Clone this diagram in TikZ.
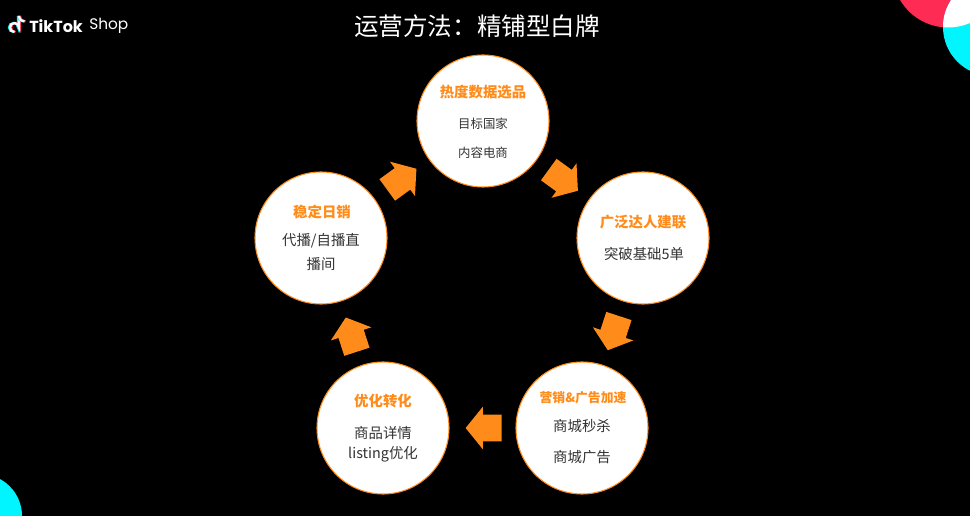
\documentclass[tikz,border=0pt]{standalone}
\usepackage{fontspec}
\newfontfamily\cjk{Noto Sans CJK SC}
\newfontfamily\logofont{Poppins}
\usetikzlibrary{shapes.arrows}
\definecolor{tkorange}{HTML}{FF8C1A}
\definecolor{tkred}{HTML}{FE2C55}
\definecolor{tkcyan}{HTML}{00F5FF}
\definecolor{tktext}{HTML}{333333}
\tikzstyle{stage}=[circle,draw=tkorange,line width=0.8pt,fill=white,minimum size=99pt,inner sep=0pt]
\tikzstyle{head}=[font=\cjk\fontsize{10.8pt}{12pt}\selectfont\bfseries,text=tkorange,inner sep=0pt]
\tikzstyle{body}=[font=\cjk\fontsize{10.8pt}{12pt}\selectfont,text=tktext,inner sep=0pt]
\tikzstyle{flow}=[single arrow,fill=tkorange,minimum height=27pt,minimum width=31.5pt,single arrow head extend=6pt,single arrow tip angle=102,inner xsep=0pt,inner ysep=9.75pt]
\begin{document}
\begin{tikzpicture}[x=0.75pt,y=-0.75pt]
	\useasboundingbox (0,0) rectangle (970,516);
	\fill[black] (0,0) rectangle (970,516);
	% corner decorations
	\begin{scope}
		\clip (0,0) rectangle (970,516);
		\fill[tkred] (948,-28) circle[radius=55.5];
		\fill[tkcyan] (992,27) circle[radius=49];
		\begin{scope}
			\clip (948,-28) circle[radius=55.5];
			\fill[white] (992,27) circle[radius=49];
		\end{scope}
		\fill[tkcyan] (-20,516) circle[radius=42];
	\end{scope}
	% logo
	\foreach \col/\dx in {tkcyan/-1,tkred/1,white/0}
		\draw[\col,line width=1.7pt] ([xshift=\dx*0.75pt]19,16) -- ([xshift=\dx*0.75pt]19,27.5)
			arc[start angle=0,end angle=-270,radius=4.5];
	\foreach \col/\dx in {tkcyan/-1,tkred/1,white/0}
		\draw[\col,line width=1.7pt] ([xshift=\dx*0.75pt]19,16) .. controls ([xshift=\dx*0.75pt]19.5,19.5) and ([xshift=\dx*0.75pt]21.5,21.5) .. ([xshift=\dx*0.75pt]24.5,21.5);
	\node[anchor=west,inner sep=0pt,text=white,font=\logofont\fontsize{12pt}{14pt}\selectfont\bfseries] (brand) at (29,26) {TikTok};
	\node[anchor=west,inner sep=0pt,text=white,font=\logofont\fontsize{11.5pt}{14pt}\selectfont] (shop) at (89,26) {Shop};
	% title
	\node[inner sep=0pt,text=white,font=\cjk\fontsize{18.4pt}{22pt}\selectfont] (title) at (477,26) {运营方法：精铺型白牌};
	% stages
	\foreach \name/\x/\y in {hot/483/121,kol/643/238,ads/582/428,conv/383/428,daily/321/238}
		\node[stage] (\name) at (\x,\y) {};
	% arrows
	\foreach \name/\x/\y/\rot in {hotkol/559/177/-36,kolads/615/328/-108,adsconv/489/428/180,convdaily/353/339.75/108,dailyhot/397.5/182.5/36}
		\node[flow,rotate=\rot] (\name) at (\x,\y) {};
	% texts
	\node[head] (hothead) at (483,92) {热度数据选品};
	\node[body,font=\cjk\fontsize{9.3pt}{12pt}\selectfont] (hotone) at (483,124) {目标国家};
	\node[body,font=\cjk\fontsize{9.3pt}{12pt}\selectfont] (hottwo) at (483,153) {内容电商};
	\node[head] (kolhead) at (643,222) {广泛达人建联};
	\node[body] (kolone) at (644,254) {突破基础5单};
	\node[head,font=\cjk\fontsize{9.6pt}{12pt}\selectfont\bfseries] (adshead) at (583,398) {营销\&广告加速};
	\node[body] (adsone) at (582,426) {商城秒杀};
	\node[body] (adstwo) at (582,457) {商城广告};
	\node[head] (convhead) at (383,401) {优化转化};
	\node[body] (convone) at (383,433) {商品详情};
	\node[body] (convtwo) at (383,454) {listing优化};
	\node[head] (dailyhead) at (322,212) {稳定日销};
	\node[body] (dailyone) at (321,241) {代播/自播直};
	\node[body] (dailytwo) at (321,264) {播间};
\end{tikzpicture}
\end{document}
